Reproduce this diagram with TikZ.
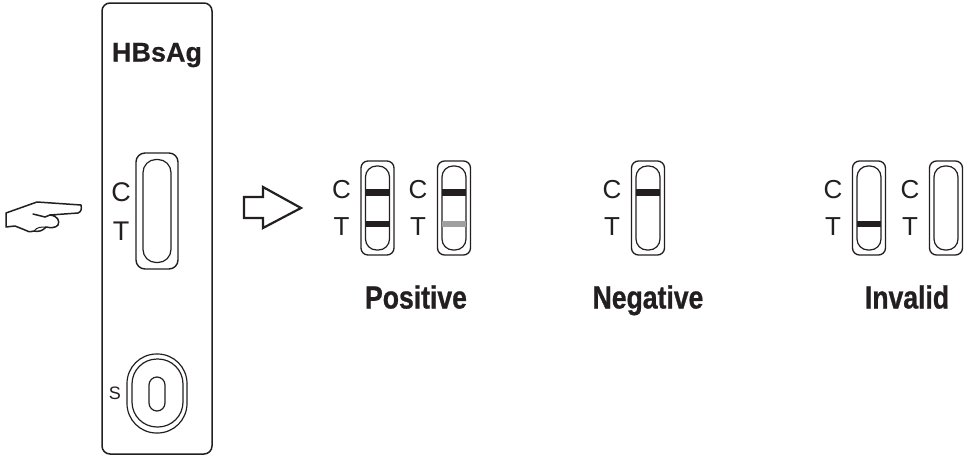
\documentclass[tikz,border=0pt]{standalone}
\usepackage{fontspec}
\setmainfont{Liberation Sans}
\newfontfamily\resultfont[FakeStretch=0.83,FakeBold=0.8]{Liberation Sans Bold}
\newfontfamily\namefont[FakeBold=0.5]{Liberation Sans Bold}
\usetikzlibrary{positioning}
\definecolor{inkblack}{HTML}{231F20}
\definecolor{faintband}{HTML}{A0A0A2}
\tikzset{
  card/.style={draw=inkblack,line width=1.5pt,rounded corners=8pt,minimum width=110pt,minimum height=451pt,inner sep=0pt},
  shell/.style={draw=inkblack,line width=1.3pt,rounded corners=7pt,minimum width=33pt,minimum height=94pt,inner sep=0pt},
  slot/.style={draw=inkblack,line width=1.2pt,rounded corners=11pt,minimum width=24pt,minimum height=84pt,inner sep=0pt},
  band/.style={fill=#1,minimum width=24pt,minimum height=6.5pt,inner sep=0pt},
  band/.default={inkblack},
  letter/.style={font=\fontsize{26}{26}\selectfont,text=inkblack,inner sep=0pt},
  result/.style={font=\fontsize{32}{32}\selectfont\resultfont,text=inkblack,inner sep=0pt,anchor=base},
}
% one small strip: name, centre x
\newcommand{\teststrip}[2]{
  \node[shell] (#1shell) at (#2,208) {};
  \node[slot] (#1slot) at (#2,208) {};
  \node[letter] (#1c) at (#2-36,190) {C};
  \node[letter] (#1t) at (#2-36,227) {T};
}
\begin{document}
\begin{tikzpicture}[x=1pt,y=-1pt]
  \useasboundingbox (0,0) rectangle (970,458);
  % cassette
  \node[card] (cassette) at (157,228.5) {};
  \node[font=\fontsize{27}{27}\selectfont\namefont,text=inkblack,inner sep=0pt,anchor=base] (name) at (157,61.5) {HBsAg};
  \node[draw=inkblack,line width=1.4pt,rounded corners=9pt,minimum width=42pt,minimum height=116pt,inner sep=0pt] (window) at (157,211) {};
  \node[draw=inkblack,line width=1.2pt,rounded corners=13pt,minimum width=28pt,minimum height=103pt,inner sep=0pt] (membrane) at (157,211) {};
  \node[font=\fontsize{27}{27}\selectfont,text=inkblack,inner sep=0pt] (cmark) at (121,192) {C};
  \node[font=\fontsize{27}{27}\selectfont,text=inkblack,inner sep=0pt] (tmark) at (121,231) {T};
  % sample well
  \node[draw=inkblack,line width=1.2pt,rounded corners=29.5pt,minimum width=60pt,minimum height=79pt,inner sep=0pt] (wellout) at (157,393.5) {};
  \node[draw=inkblack,line width=1.2pt,rounded corners=25pt,minimum width=51pt,minimum height=68pt,inner sep=0pt] (wellin) at (157.5,393) {};
  \node[draw=inkblack,line width=1.2pt,rounded corners=8pt,minimum width=16pt,minimum height=34pt,inner sep=0pt] (wellhole) at (157,394) {};
  \node[font=\fontsize{18}{18}\selectfont,text=inkblack,inner sep=0pt] (smark) at (115,393) {S};
  % pointing hand
  \draw[inkblack,line width=1.5pt,line join=round] (6,213) -- (37,202) -- (81,205)
    .. controls (82,209) and (81,212) .. (78,213) -- (50,215)
    .. controls (58,216) and (60,221) .. (58,225)
    .. controls (56,228) and (50,228) .. (46,227)
    .. controls (43,231) and (38,232) .. (34,231)
    .. controls (30,232) and (27,232) .. (25,230)
    -- (15,226) -- (6,227) -- cycle;
  \draw[inkblack,line width=1.5pt,line cap=round] (33,214) -- (45,217) -- (50,215);
  \draw[inkblack,line width=1pt] (34,231) .. controls (37,227) and (41,227) .. (46,227);
  % open arrow
  \draw[inkblack,line width=2.2pt,miter limit=10] (244,197) -- (263,197) -- (263,187) -- (301,208) -- (263,228) -- (263,218) -- (244,218) -- cycle;
  % positive
  \teststrip{posa}{377.5}
  \node[band] (posac) at (posaslot|-0,192.5) {};
  \node[band] (posat) at (posaslot|-0,224) {};
  \teststrip{posb}{454}
  \node[band] (posbc) at (posbslot|-0,192.5) {};
  \node[band=faintband] (posbt) at (posbslot|-0,224) {};
  \node[result] (positive) at (416,308.5) {Positive};
  % negative
  \teststrip{nega}{648}
  \node[band] (negac) at (negaslot|-0,192.5) {};
  \node[result] (negative) at (648,308.5) {Negative};
  % invalid
  \teststrip{inva}{869}
  \node[band] (invat) at (invaslot|-0,224) {};
  \teststrip{invb}{946}
  \node[result] (invalid) at (907,308.5) {Invalid};
\end{tikzpicture}
\end{document}
